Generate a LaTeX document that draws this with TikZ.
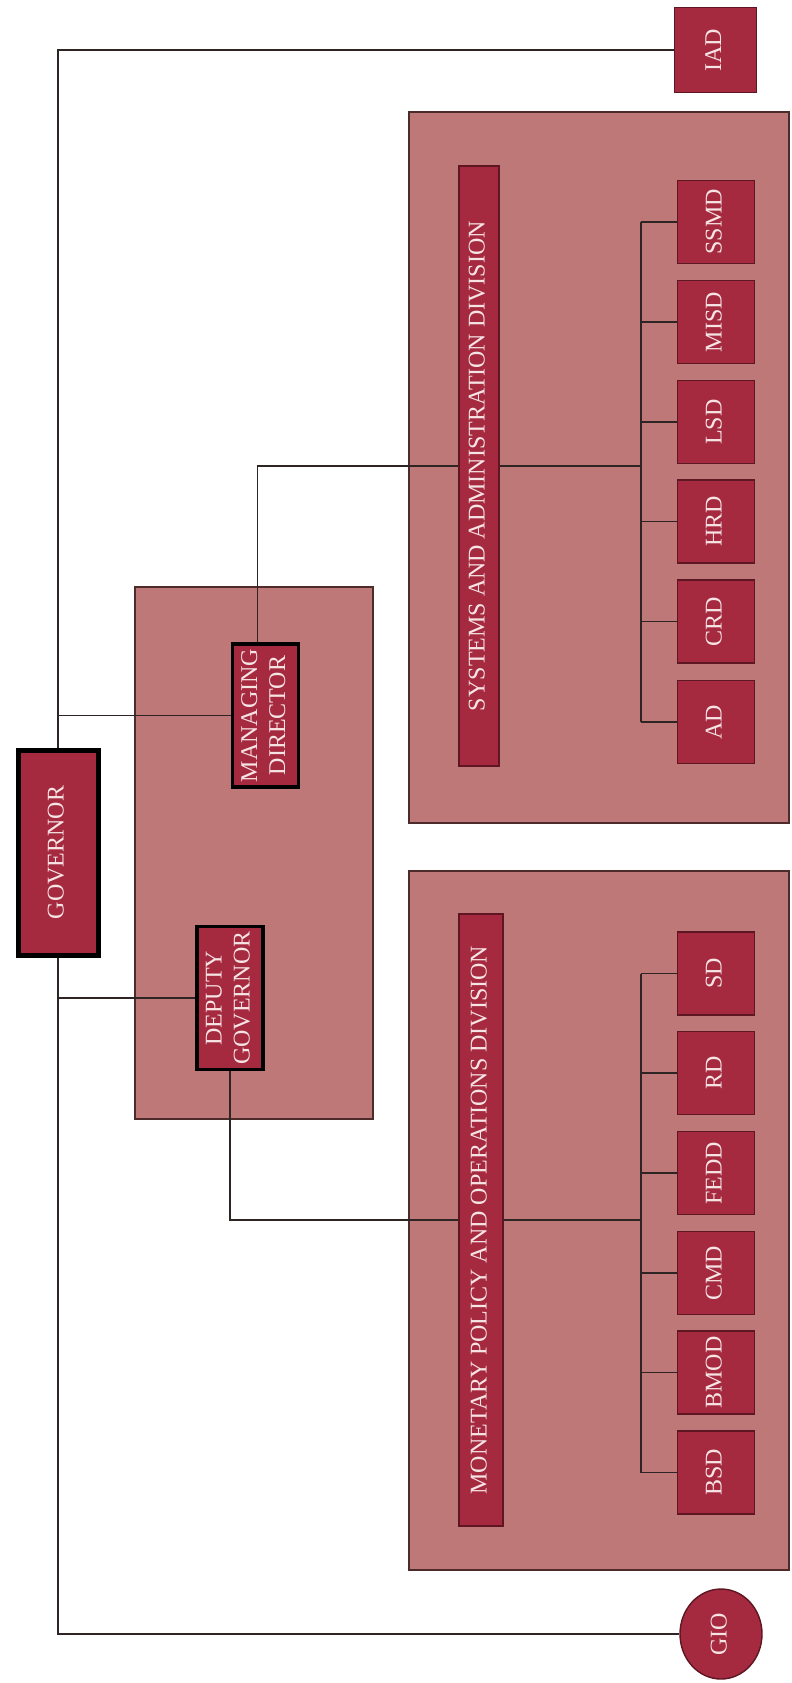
\documentclass[tikz,border=0pt]{standalone}
\usepackage{fontspec}
\setmainfont{Liberation Serif}
\usepackage{tikz}
\usetikzlibrary{positioning,calc,shapes.geometric}
\definecolor{bankrose}{HTML}{BF7878}
\definecolor{bankcrimson}{HTML}{A52A40}
\definecolor{bankmaroon}{HTML}{5E1622}
\definecolor{bankframe}{HTML}{4D2B2B}
\definecolor{banktext}{HTML}{F6E4E4}
\definecolor{bankline}{HTML}{2E2424}
\newcommand{\vlabel}[1]{\rotatebox{90}{\begin{tabular}{@{}c@{}}#1\end{tabular}}}

\begin{document}
\begin{tikzpicture}[
  x=1pt, y=-1pt,
  font=\fontsize{24}{28}\selectfont,
  groupbox/.style={
    draw=bankframe,
    fill=bankrose,
    line width=1.2pt,
    inner sep=0pt
  },
  unitbox/.style={
    draw=bankmaroon,
    fill=bankcrimson,
    line width=1.4pt,
    text=banktext,
    inner sep=0pt,
    minimum width=77pt,
    minimum height=83pt
  },
  divbar/.style={
    draw=bankmaroon,
    fill=bankcrimson,
    line width=1.4pt,
    text=banktext,
    inner sep=0pt
  },
  leadbox/.style={
    draw=black,
    fill=bankcrimson,
    line width=3.5pt,
    text=banktext,
    inner sep=0pt,
    minimum width=66pt,
    minimum height=143pt
  },
  link/.style={draw=bankline, line width=1.5pt}
]
  \useasboundingbox (0,0) rectangle (792,1683);

  % Group panels
  \node[groupbox, minimum width=238pt, minimum height=532pt] (mgmt) at (254,853) {};
  \node[groupbox, minimum width=380pt, minimum height=711pt] (sadgrp) at (599,467.5) {};
  \node[groupbox, minimum width=380pt, minimum height=699pt] (mpgrp) at (599,1220.5) {};

  % Top of the chart
  \node[leadbox, line width=5pt, minimum width=80pt, minimum height=205pt] (gov) at (58,852.5) {\vlabel{GOVERNOR}};
  \node[leadbox] (md) at (265.5,715.5) {\vlabel{MANAGING\\DIRECTOR}};
  \node[leadbox] (dg) at (230,998) {\vlabel{DEPUTY\\GOVERNOR}};
  \node[unitbox, minimum width=82pt, minimum height=85pt] (iad) at (715.5,50) {\vlabel{IAD}};
  \node[unitbox, ellipse, minimum width=82pt, minimum height=90pt] (gio) at (721,1634) {\vlabel{GIO}};

  % Division bars
  \node[divbar, minimum width=40pt, minimum height=600pt] (sadbar) at (479,466) {\vlabel{SYSTEMS AND ADMINISTRATION DIVISION}};
  \node[divbar, minimum width=44pt, minimum height=612pt] (mpbar) at (481,1220) {\vlabel{MONETARY POLICY AND OPERATIONS DIVISION}};

  % Systems and administration departments
  \node[unitbox] (ssmd) at (716,222) {\vlabel{SSMD}};
  \node[unitbox] (misd) at (716,322) {\vlabel{MISD}};
  \node[unitbox] (lsd) at (716,422) {\vlabel{LSD}};
  \node[unitbox] (hrd) at (716,521.5) {\vlabel{HRD}};
  \node[unitbox] (crd) at (716,621.5) {\vlabel{CRD}};
  \node[unitbox] (ad) at (716,722) {\vlabel{AD}};

  % Monetary policy and operations departments
  \node[unitbox] (sd) at (716,973.5) {\vlabel{SD}};
  \node[unitbox] (rd) at (716,1073) {\vlabel{RD}};
  \node[unitbox] (fedd) at (716,1173) {\vlabel{FEDD}};
  \node[unitbox] (cmd) at (716,1273) {\vlabel{CMD}};
  \node[unitbox] (bmod) at (716,1372.5) {\vlabel{BMOD}};
  \node[unitbox] (bsd) at (716,1472.5) {\vlabel{BSD}};

  \coordinate (sadbus) at (641,466);
  \coordinate (mpbus) at (641,1220);

  % Reporting lines
  \draw[link] (gov.north) |- (iad.west);
  \draw[link] (gov.south) |- (gio.west);
  \draw[link] (md.west) -- (md.west -| gov.north);
  \draw[link] (dg.west) -- (dg.west -| gov.south);
  \draw[link] ([xshift=-8pt]md.north) |- (sadbar.west);
  \draw[link] (dg.south) |- (mpbar.west);

  % Department buses
  \draw[link] (sadbar.east) -- (sadbar.east -| sadbus);
  \draw[link] (ssmd.west -| sadbus) -- (ad.west -| sadbus);
  \draw[link] (ssmd.west) -- (ssmd.west -| sadbus);
  \draw[link] (misd.west) -- (misd.west -| sadbus);
  \draw[link] (lsd.west) -- (lsd.west -| sadbus);
  \draw[link] (hrd.west) -- (hrd.west -| sadbus);
  \draw[link] (crd.west) -- (crd.west -| sadbus);
  \draw[link] (ad.west) -- (ad.west -| sadbus);

  \draw[link] (mpbar.east) -- (mpbar.east -| mpbus);
  \draw[link] (sd.west -| mpbus) -- (bsd.west -| mpbus);
  \draw[link] (sd.west) -- (sd.west -| mpbus);
  \draw[link] (rd.west) -- (rd.west -| mpbus);
  \draw[link] (fedd.west) -- (fedd.west -| mpbus);
  \draw[link] (cmd.west) -- (cmd.west -| mpbus);
  \draw[link] (bmod.west) -- (bmod.west -| mpbus);
  \draw[link] (bsd.west) -- (bsd.west -| mpbus);

\end{tikzpicture}
\end{document}
